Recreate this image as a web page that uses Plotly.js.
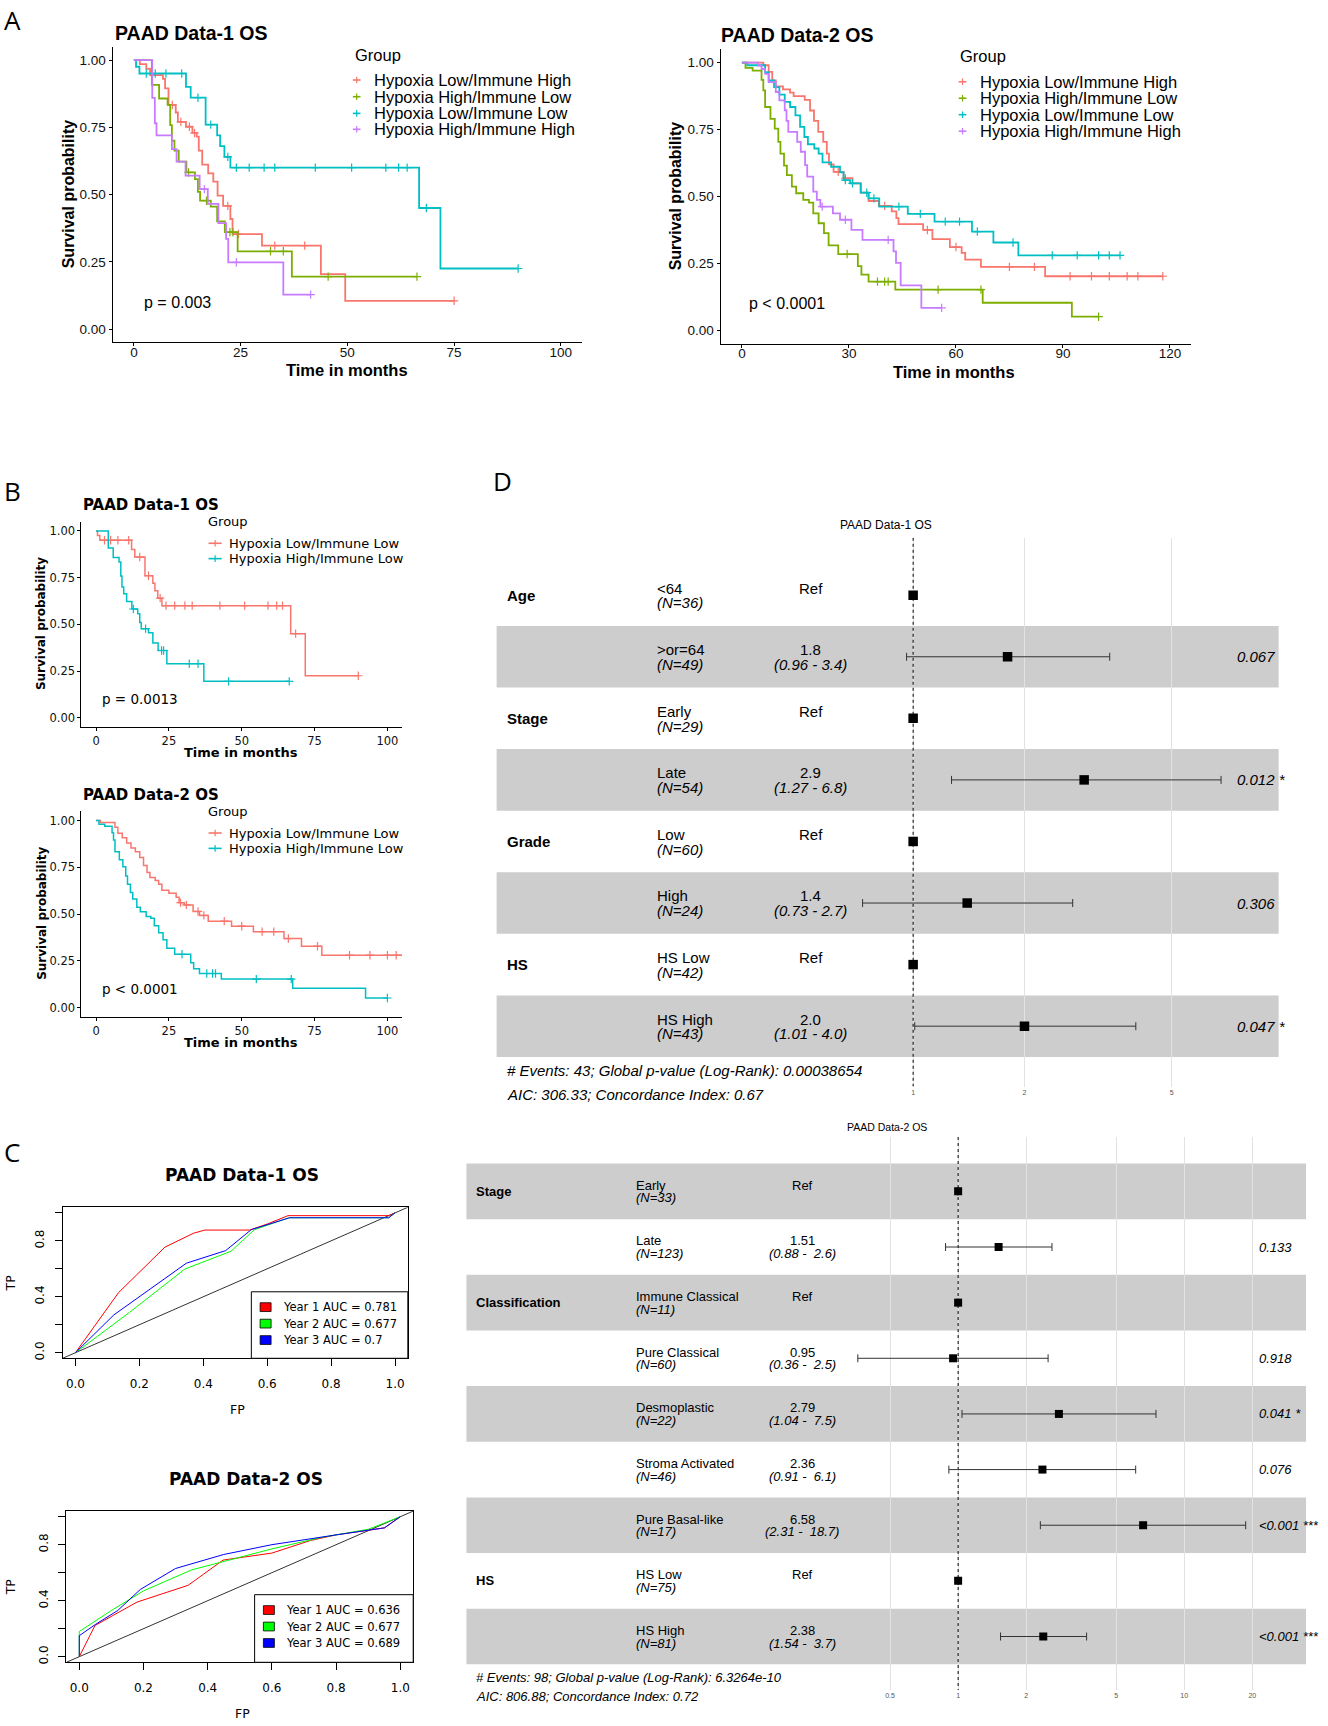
<!DOCTYPE html>
<html><head><meta charset="utf-8">
<script src="https://cdn.plot.ly/plotly-3.0.1.min.js"></script>
<style>html,body{margin:0;padding:0;background:#fff}#chart{width:1328px;height:1726px}</style>
</head><body><div id="chart"></div>
<script>
// ================= DATA =================
const groupsA = ["Hypoxia Low/Immune High","Hypoxia High/Immune Low","Hypoxia Low/Immune Low","Hypoxia High/Immune High"];
const groupsB = ["Hypoxia Low/Immune Low","Hypoxia High/Immune Low"];

// ---- PAAD Data-1 OS, Kaplan-Meier (time in months, survival) ----
const d1LH_t = [0,1.4,2.9,3.8,6.8,7.3,8.1,9.8,10.3,12.2,13.7,14.7,15.2,16.0,17.4,18.6,19.6,20.9,22.6,23.1,30.0,43.8,49.5];
const d1LH_s = [1,0.985,0.967,0.944,0.93,0.895,0.833,0.805,0.77,0.752,0.729,0.715,0.663,0.611,0.579,0.548,0.496,0.458,0.409,0.353,0.31,0.204,0.105];
const d1LH_end = 75;
const d1LH_cens = [9,11,13,14.2,22,24.5,33,40,75];

const d1HL_t = [0,4.2,5.9,7.9,8.5,8.9,9.5,10.5,12.3,14.3,15.0,15.5,18.0,19.5,21.3,24.3,37.0];
const d1HL_s = [1,0.908,0.857,0.833,0.758,0.70,0.663,0.622,0.582,0.557,0.51,0.477,0.455,0.40,0.36,0.289,0.195];
const d1HL_end = 66.3;
const d1HL_cens = [12.8,17,22.5,23.2,32,35,45.5,66.3];

const d1LL_t = [0,0.5,1.3,12.2,13.3,16.8,19.5,20.2,21.2,22.6,66.8,71.8];
const d1LL_s = [1,0.975,0.95,0.9,0.86,0.76,0.72,0.68,0.64,0.60,0.45,0.225];
const d1LL_end = 90;
const d1LL_cens = [2.9,5,7.5,11.2,15,18,22,24,27,30.5,33,42.5,51,59,62,64,68.5,90];

const d1HH_t = [0,3.6,4.3,4.9,5.3,8.9,10.0,12.1,15.4,17.3,19.8,21.6,22.1,35.0];
const d1HH_s = [1,1,0.859,0.765,0.72,0.669,0.622,0.57,0.52,0.465,0.394,0.335,0.248,0.128];
const d1HH_end = 41.4;
const d1HH_cens = [16.5,24,41.4];

// ---- PAAD Data-2 OS, Kaplan-Meier ----
const d2LH_t = [0,6,7.5,8.5,9.5,11.5,13.5,14.5,17.6,19.1,20.2,21.4,22.8,23.8,24.4,25.7,28.5,31.0,33.3,35.5,38.4,42.0,43.3,43.9,50.8,53.4,58.3,61.6,62.6,67.0,85.0];
const d2LH_s = [1,0.99,0.965,0.933,0.911,0.90,0.888,0.875,0.861,0.821,0.782,0.741,0.704,0.66,0.62,0.592,0.568,0.549,0.514,0.483,0.465,0.444,0.419,0.397,0.375,0.341,0.311,0.289,0.264,0.237,0.202];
const d2LH_end = 118;
const d2LH_cens = [27,29,40,52,60,75,82,92,98,103,108,111,118];

const d2HL_t = [0,1,3,5.5,6,6.5,8,9.2,10.2,10.8,11.8,12.6,14,15.2,17.2,18.8,20.0,21.5,23.0,24.3,27.0,32.5,33.5,35.5,43.0,67.5,92.5];
const d2HL_s = [1,0.98,0.97,0.935,0.896,0.834,0.79,0.753,0.704,0.66,0.615,0.58,0.537,0.512,0.487,0.477,0.437,0.40,0.363,0.317,0.285,0.24,0.208,0.182,0.152,0.103,0.051];
const d2HL_end = 100;
const d2HL_cens = [29.5,38,40,41,55,67,100];

const d2LL_t = [0,1.5,6.5,7.5,9,10.5,12,13.5,15,16.3,17.5,18.5,20.3,21.5,22.6,25,27.5,28.5,30.3,33.3,35.5,38.5,46.5,54,64.5,70.5,77.5];
const d2LL_s = [1,0.99,0.964,0.933,0.908,0.88,0.853,0.834,0.803,0.76,0.722,0.695,0.679,0.66,0.627,0.611,0.59,0.561,0.549,0.514,0.493,0.462,0.435,0.406,0.369,0.328,0.28];
const d2LL_end = 106;
const d2LL_cens = [29,31,35,37,44,50,57,61,66,76,87,94,100,103,106];

const d2HH_t = [0,4.5,5.5,6.5,7.5,9.5,10.5,12,12.5,13,15.5,16.5,17.7,18.3,20,21,22,25.5,27.5,30.7,33.8,42.5,43.2,44.5,50.3];
const d2HH_s = [1,0.989,0.976,0.958,0.927,0.89,0.859,0.822,0.782,0.741,0.704,0.667,0.617,0.574,0.518,0.487,0.462,0.437,0.413,0.375,0.338,0.295,0.252,0.168,0.084];
const d2HH_end = 56;
const d2HH_cens = [22.5,29,41,56];

const pA1 = "p = 0.003", pA2 = "p < 0.0001", pB1 = "p = 0.0013", pB2 = "p < 0.0001";

// ---- ROC (panel C) ----
const rocYears = ["Year 1","Year 2","Year 3"];
const roc1AUC = ["0.781","0.677","0.7"];
const roc1_fp1 = [0,0.135,0.28,0.37,0.405,0.545,0.60,0.665,0.98,1.0];
const roc1_tp1 = [0,0.43,0.755,0.855,0.877,0.877,0.92,0.98,0.98,1.0];
const roc1_fp2 = [0,0.17,0.342,0.487,0.56,0.668,0.98,1.0];
const roc1_tp2 = [0,0.29,0.598,0.726,0.88,0.965,0.965,1.0];
const roc1_fp3 = [0,0.12,0.347,0.47,0.55,0.67,0.98,1.0];
const roc1_tp3 = [0,0.27,0.64,0.73,0.88,0.965,0.965,1.0];
const roc2AUC = ["0.636","0.677","0.689"];
const roc2_fp1 = [0,0.049,0.18,0.339,0.448,0.6,0.72,0.8,0.951,1.0];
const roc2_tp1 = [0,0.223,0.39,0.51,0.69,0.74,0.83,0.87,0.92,1.0];
const roc2_fp2 = [0,0,0.1,0.2,0.35,0.5,0.6,0.75,0.9,1.0];
const roc2_tp2 = [0,0.18,0.33,0.47,0.62,0.71,0.77,0.85,0.91,1.0];
const roc2_fp3 = [0,0,0.05,0.12,0.19,0.3,0.45,0.6,0.8,0.95,1.0];
const roc2_tp3 = [0,0.15,0.23,0.33,0.48,0.63,0.73,0.80,0.87,0.92,1.0];

// ---- Forest plots (panel D) ----
const f1Var = ["Age","","Stage","","Grade","","HS",""];
const f1Level = ["<64",">or=64","Early","Late","Low","High","HS Low","HS High"];
const f1N = [36,49,29,54,60,24,42,43];
const f1HR = [1,1.8,1,2.9,1,1.4,1,2.0];
const f1Lo = [1,0.96,1,1.27,1,0.73,1,1.01];
const f1Hi = [1,3.4,1,6.8,1,2.7,1,4.0];
const f1Ref = [true,false,true,false,true,false,true,false];
const f1P = ["","0.067","","0.012 *","","0.306","","0.047 *"];
const f1Foot = ["# Events: 43; Global p-value (Log-Rank): 0.00038654","AIC: 306.33; Concordance Index: 0.67"];
const f1Ticks = [1,2,5];

const f2Var = ["Stage","","Classification","","","","","HS",""];
const f2Level = ["Early","Late","Immune Classical","Pure Classical","Desmoplastic","Stroma Activated","Pure Basal-like","HS Low","HS High"];
const f2N = [33,123,11,60,22,46,17,75,81];
const f2HR = [1,1.51,1,0.95,2.79,2.36,6.58,1,2.38];
const f2Lo = [1,0.88,1,0.36,1.04,0.91,2.31,1,1.54];
const f2Hi = [1,2.6,1,2.5,7.5,6.1,18.7,1,3.7];
const f2Ref = [true,false,true,false,false,false,false,true,false];
const f2P = ["","0.133","","0.918","0.041 *","0.076","<0.001 ***","","<0.001 ***"];
const f2Foot = ["# Events: 98; Global p-value (Log-Rank): 6.3264e-10","AIC: 806.88; Concordance Index: 0.72"];
const f2Ticks = [0.5,1,2,5,10,20];

// ================= LAYOUT HELPERS =================
const W = 1328, H = 1726, K = W / 1210;
const fx = d => d / 1210;
const fy = d => 1 - d * K / H;
const lin = (p0, p1, v0, v1, v) => p0 + (v - v0) * (p1 - p0) / (v1 - v0);
const esc = s => String(s).replace(/&/g,'&amp;').replace(/</g,'&lt;').replace(/>/g,'&gt;');

const FA = "Liberation Sans, Arial, Helvetica, sans-serif";
const FB = "DejaVu Sans, Verdana, sans-serif";
const FL = "Open Sans, Noto Sans, sans-serif";
const RED = '#F8766D', GRN = '#7CAE00', CYN = '#00BFC4', PUR = '#C77CFF';

const traces = [], shapes = [], annotations = [];
const layout = {width: W, height: H, margin: {l:0, r:0, t:0, b:0}, paper_bgcolor: '#fff',
  plot_bgcolor: 'rgba(0,0,0,0)', showlegend: false, shapes, annotations, hovermode: false};

function ann(x, y, text, family, size, o) {
  annotations.push(Object.assign({xref:'paper', yref:'paper', x: fx(x), y: fy(y), text, showarrow:false,
    xanchor:'left', yanchor:'middle', font:{family, size, color:'#000'}}, o || {}));
}
const sfx = n => n === 1 ? '' : String(n);

// ---------- Kaplan-Meier ----------
function kmAxes(n, c) {
  const s = sfx(n);
  const xd = [fx(lin(c.xp[0], c.xp[1], 0, c.xv1, c.xr[0])), fx(lin(c.xp[0], c.xp[1], 0, c.xv1, c.xr[1]))];
  const yd = [fy(lin(c.yp[0], c.yp[1], 0, 1, c.yr[0])), fy(lin(c.yp[0], c.yp[1], 0, 1, c.yr[1]))];
  const base = {showline:true, linecolor:'#000', linewidth:1, ticks:'outside', ticklen:3, tickcolor:'#000',
    showgrid:false, zeroline:false, fixedrange:true, tickfont:{family:c.font, size:c.tick, color:'#111'}};
  layout['xaxis' + s] = Object.assign({}, base, {domain: xd, range: c.xr, anchor: 'y' + s, tickvals: c.xticks, ticklabelstandoff: c.xso});
  layout['yaxis' + s] = Object.assign({}, base, {domain: yd, range: c.yr, anchor: 'x' + s,
    tickvals: [0,0.25,0.5,0.75,1], ticktext: ['0.00','0.25','0.50','0.75','1.00']});
}
function addKM(n, t, sv, end, cens, color, w) {
  const s = sfx(n);
  traces.push({x: t.concat([end]), y: sv.concat([sv[sv.length - 1]]), xaxis:'x' + s, yaxis:'y' + s,
    mode:'lines', line:{color, width:w, shape:'hv'}, hoverinfo:'skip'});
  const cy = cens.map(c => { let v = sv[0]; for (let i = 0; i < t.length; i++) if (t[i] <= c) v = sv[i]; return v; });
  traces.push({x: cens, y: cy, xaxis:'x' + s, yaxis:'y' + s, mode:'markers', hoverinfo:'skip',
    marker:{symbol:'cross-thin', size:6, color, line:{color, width:1.2}}});
}
function kmLegend(gx, gy, keyX, keyHalf, textX, ys, labels, colors, family, size, gsize) {
  ann(gx, gy, 'Group', family, gsize);
  labels.forEach((lab, i) => {
    shapes.push({type:'line', xref:'paper', yref:'paper', x0:fx(keyX - keyHalf), x1:fx(keyX + keyHalf), y0:fy(ys[i]), y1:fy(ys[i]), line:{color:colors[i], width:1.6}});
    shapes.push({type:'line', xref:'paper', yref:'paper', x0:fx(keyX), x1:fx(keyX), y0:fy(ys[i] - 3), y1:fy(ys[i] + 3), line:{color:colors[i], width:1.2}});
    ann(textX, ys[i], lab, family, size);
  });
}
function pAnn(n, x, y, text, family, size) {
  const s = sfx(n);
  annotations.push({xref:'x' + s, yref:'y' + s, x, y, text: esc(text), showarrow:false, xanchor:'left', yanchor:'middle', font:{family, size, color:'#000'}});
}

// Panel A
kmAxes(1, {xp:[122,511], xv1:100, yp:[299.8,54.7], xr:[-5,105], yr:[-0.05,1.05], xticks:[0,25,50,75,100], font:FA, tick:13.5, xso:-6});
addKM(1, d1LH_t, d1LH_s, d1LH_end, d1LH_cens, RED, 1.8);
addKM(1, d1HL_t, d1HL_s, d1HL_end, d1HL_cens, GRN, 1.8);
addKM(1, d1LL_t, d1LL_s, d1LL_end, d1LL_cens, CYN, 1.8);
addKM(1, d1HH_t, d1HH_s, d1HH_end, d1HH_cens, PUR, 1.8);
pAnn(1, 2, 0.1, pA1, FA, 16);
kmLegend(321.5, 50, 325, 3.5, 338.5, [72.9,88.1,103.3,117.8], groupsA, [RED,GRN,CYN,PUR], FA, 16.5, 16.5);
ann(103, 30.4, '<b>PAAD Data-1 OS</b>', FA, 19.5);
ann(62, 177, '<b>Survival probability</b>', FA, 16, {xanchor:'center', textangle:-90});
ann(316, 337, '<b>Time in months</b>', FA, 16.5, {xanchor:'center'});

kmAxes(2, {xp:[676,1066], xv1:120, yp:[301,57], xr:[-6,126], yr:[-0.05,1.05], xticks:[0,30,60,90,120], font:FA, tick:13.5, xso:-6});
addKM(2, d2LH_t, d2LH_s, d2LH_end, d2LH_cens, RED, 1.8);
addKM(2, d2HL_t, d2HL_s, d2HL_end, d2HL_cens, GRN, 1.8);
addKM(2, d2LL_t, d2LL_s, d2LL_end, d2LL_cens, CYN, 1.8);
addKM(2, d2HH_t, d2HH_s, d2HH_end, d2HH_cens, PUR, 1.8);
pAnn(2, 1.5, 0.1, pA2, FA, 16);
kmLegend(873, 51, 877, 3.5, 891, [74.5,89.5,104.5,119.5], groupsA, [RED,GRN,CYN,PUR], FA, 16.5, 16.5);
ann(655, 31.5, '<b>PAAD Data-2 OS</b>', FA, 19.5);
ann(615, 178, '<b>Survival probability</b>', FA, 16, {xanchor:'center', textangle:-90});
ann(869, 339, '<b>Time in months</b>', FA, 16.5, {xanchor:'center'});

// Panel B
kmAxes(3, {xp:[87.5,353], xv1:100, yp:[654,483.7], xr:[-5,105], yr:[-0.05,1.05], xticks:[0,25,50,75,100], font:FB, tick:11.5, xso:0});
addKM(3, d1LL_t, d1LL_s, d1LL_end, d1LL_cens, RED, 1.5);
addKM(3, d1HL_t, d1HL_s, d1HL_end, d1HL_cens, CYN, 1.5);
pAnn(3, 1.5, 0.1, pB1, FB, 13.5);
kmLegend(188, 475, 196, 6, 207, [495,509], groupsB, [RED,CYN], FB, 13, 13);
ann(74, 460, '<b>PAAD Data-1 OS</b>', FB, 15);
ann(38, 568, '<b>Survival probability</b>', FB, 12, {xanchor:'center', textangle:-90});
ann(220, 686, '<b>Time in months</b>', FB, 13, {xanchor:'center'});

kmAxes(4, {xp:[87.5,353], xv1:100, yp:[918,747.7], xr:[-5,105], yr:[-0.05,1.05], xticks:[0,25,50,75,100], font:FB, tick:11.5, xso:0});
addKM(4, d2LL_t, d2LL_s, d2LL_end, d2LL_cens, RED, 1.5);
addKM(4, d2HL_t, d2HL_s, d2HL_end, d2HL_cens, CYN, 1.5);
pAnn(4, 1.5, 0.1, pB2, FB, 13.5);
kmLegend(188, 739, 196, 6, 207, [759,773], groupsB, [RED,CYN], FB, 13, 13);
ann(74, 724, '<b>PAAD Data-2 OS</b>', FB, 15);
ann(38, 832, '<b>Survival probability</b>', FB, 12, {xanchor:'center', textangle:-90});
ann(220, 950, '<b>Time in months</b>', FB, 13, {xanchor:'center'});

// ---------- ROC (panel C) ----------
function rocPanel(n, box, series, aucs, leg, title, tY, fpY, tpX) {
  const s = sfx(n);
  const base = {showline:true, mirror:true, linecolor:'#000', linewidth:1, ticks:'outside', ticklen:7, tickcolor:'#000',
    showgrid:false, zeroline:false, fixedrange:true, range:[-0.04,1.04], tickfont:{family:FB, size:12, color:'#000'}};
  layout['xaxis' + s] = Object.assign({}, base, {domain:[fx(box[0]), fx(box[1])], anchor:'y' + s, ticklabelstandoff:7,
    tickvals:[0,0.2,0.4,0.6,0.8,1], ticktext:['0.0','0.2','0.4','0.6','0.8','1.0']});
  layout['yaxis' + s] = Object.assign({}, base, {domain:[fy(box[3]), fy(box[2])], anchor:'x' + s, ticklabelstandoff:6,
    tickvals:[0,0.2,0.4,0.6,0.8,1], ticktext:['0.0','','0.4','','0.8',''], tickangle:-90});
  traces.push({x:[-0.04,1.04], y:[-0.04,1.04], xaxis:'x' + s, yaxis:'y' + s, mode:'lines', line:{color:'#333', width:1}, hoverinfo:'skip'});
  const cols = ['#FF0000','#00FF00','#0000FF'];
  series.forEach((sr, i) => traces.push({x:sr[0], y:sr[1], xaxis:'x' + s, yaxis:'y' + s, mode:'lines', line:{color:cols[i], width:1}, hoverinfo:'skip'}));
  // legend box
  shapes.push({type:'rect', xref:'paper', yref:'paper', x0:fx(leg.x0), x1:fx(box[1]), y0:fy(box[3]), y1:fy(leg.y0), line:{color:'#000', width:1}, fillcolor:'#fff'});
  leg.rows.forEach((ry, i) => {
    shapes.push({type:'rect', xref:'paper', yref:'paper', x0:fx(leg.kx - 5), x1:fx(leg.kx + 5), y0:fy(ry + 4), y1:fy(ry - 4), line:{color:'#000', width:0.8}, fillcolor:cols[i]});
    ann(leg.tx, ry, rocYears[i] + ' AUC = ' + aucs[i], FB, 11.5);
  });
  ann((box[0] + box[1]) / 2 + 6, tY, '<b>' + title + '</b>', FB, 17, {xanchor:'center'});
  ann((box[0] + box[1]) / 2 + 2, fpY, 'FP', FB, 12.5, {xanchor:'center'});
  ann(tpX, (box[2] + box[3]) / 2, 'TP', FB, 12.5, {xanchor:'center', textangle:-90});
}
rocPanel(5, [57.1,371.6,1100,1237.6], [[roc1_fp1, roc1_tp1],[roc1_fp2, roc1_tp2],[roc1_fp3, roc1_tp3]], roc1AUC,
  {x0:229, y0:1177, kx:242, tx:256, rows:[1191,1206,1221]}, 'PAAD Data-1 OS', 1071, 1284, 9.7);
rocPanel(6, [60.5,376.5,1376.8,1514.6], [[roc2_fp1, roc2_tp1],[roc2_fp2, roc2_tp2],[roc2_fp3, roc2_tp3]], roc2AUC,
  {x0:232, y0:1453, kx:245, tx:259, rows:[1467,1482,1497]}, 'PAAD Data-2 OS', 1347.5, 1561, 9.7);

// ---------- Forest plots (panel D) ----------
function forest(n, c) {
  const s = sfx(n);
  const xr = [(c.xpx[0] - c.onePx) / c.pxDec, (c.xpx[1] - c.onePx) / c.pxDec];
  const iTop = (c.ypx[0] - c.row0) / c.step, iBot = (c.ypx[1] - c.row0) / c.step;
  layout['xaxis' + s] = {type:'log', domain:[fx(c.xpx[0]), fx(c.xpx[1])], range:xr, anchor:'y' + s,
    showline:false, zeroline:false, showgrid:true, gridcolor:'#e2e2e2', gridwidth:1, ticks:'',
    tickvals:c.ticks, ticktext:c.ticks.map(String), tickfont:{family:FA, size:7, color:'#555'}, fixedrange:true};
  layout['yaxis' + s] = {domain:[fy(c.ypx[1]), fy(c.ypx[0])], range:[iBot, iTop], anchor:'x' + s,
    showline:false, zeroline:false, showgrid:false, showticklabels:false, ticks:'', fixedrange:true};
  c.level.forEach((lv, i) => {
    if (c.bandOdd ? (i % 2 === 1) : (i % 2 === 0)) {
      shapes.push({type:'rect', xref:'x' + s + ' domain', yref:'y' + s, x0:0, x1:1, y0:i - 0.5, y1:i + 0.5,
        fillcolor:'#cdcdcd', line:{width:0}, layer:'below'});
    }
    const yc = c.row0 + i * c.step;
    const ar = {xref:'paper', yref:'paper', showarrow:false, yanchor:'middle'};
    if (c.vars[i]) annotations.push(Object.assign({}, ar, {x:fx(c.colVar), y:fy(yc), xanchor:'left', text:'<b>' + c.vars[i] + '</b>', font:{family:FA, size:c.fs, color:'#000'}}));
    annotations.push(Object.assign({}, ar, {x:fx(c.colLevel), y:fy(yc + c.off[0]), xanchor:'left', text:esc(lv), font:{family:FA, size:c.fs, color:'#000'}}));
    annotations.push(Object.assign({}, ar, {x:fx(c.colLevel), y:fy(yc + c.off[1]), xanchor:'left', text:'<i>(N=' + c.N[i] + ')</i>', font:{family:FA, size:c.fs, color:'#000'}}));
    if (c.ref[i]) {
      annotations.push(Object.assign({}, ar, {x:fx(c.colHR), y:fy(yc + c.off[0]), xanchor:'center', text:'Ref', font:{family:FA, size:c.fs, color:'#000'}}));
    } else {
      annotations.push(Object.assign({}, ar, {x:fx(c.colHR), y:fy(yc + c.off[0]), xanchor:'center', text:c.HR[i].toFixed(c.dec), font:{family:FA, size:c.fs, color:'#000'}}));
      annotations.push(Object.assign({}, ar, {x:fx(c.colHR), y:fy(yc + c.off[1]), xanchor:'center', text:'<i>(' + c.Lo[i].toFixed(2) + c.sep + c.Hi[i].toFixed(1) + ')</i>', font:{family:FA, size:c.fs, color:'#000'}}));
    }
    if (c.P[i]) annotations.push(Object.assign({}, ar, {x:fx(c.colP), y:fy(yc), xanchor:'left', text:'<i>' + esc(c.P[i]) + '</i>', font:{family:FA, size:c.fs, color:'#000'}}));
  });
  // reference line at HR = 1
  traces.push({x:[1,1], y:[iTop, iBot], xaxis:'x' + s, yaxis:'y' + s, mode:'lines', line:{color:'#000', width:1, dash:'dot'}, hoverinfo:'skip'});
  // estimates with CI
  const idx = c.HR.map((_, i) => i);
  traces.push({x:c.HR, y:idx, xaxis:'x' + s, yaxis:'y' + s, mode:'markers', hoverinfo:'skip',
    marker:{symbol:'square', size:c.ms, color:'#000'},
    error_x:{type:'data', symmetric:false, array:c.HR.map((h, i) => c.Hi[i] - h), arrayminus:c.HR.map((h, i) => h - c.Lo[i]),
      color:'#333', thickness:1, width:4}});
  annotations.push({xref:'paper', yref:'paper', x:fx(c.titleX), y:fy(c.titleY), xanchor:'center', yanchor:'middle', showarrow:false,
    text:c.title, font:{family:FA, size:c.tfs, color:'#000'}});
  c.foot.forEach((f, i) => annotations.push({xref:'paper', yref:'paper', x:fx(c.colVar), y:fy(c.footY[i]), xanchor:'left', yanchor:'middle', showarrow:false,
    text:'<i>' + esc(f) + '</i>', font:{family:FA, size:c.ffs, color:'#000'}}));
}
forest(7, {xpx:[452.5,1165], onePx:832, pxDec:337, ypx:[490,990], row0:542.3, step:56.1, bandOdd:true,
  vars:f1Var, level:f1Level, N:f1N, HR:f1HR, Lo:f1Lo, Hi:f1Hi, ref:f1Ref, P:f1P, ticks:f1Ticks, dec:1, sep:' - ',
  fs:15, ms:9.5, colVar:460, colLevel:596.5, colHR:738.5, colP:1125, off:[-6.5,7],
  title:'PAAD Data-1 OS', titleX:807, titleY:478.5, tfs:12, foot:f1Foot, footY:[975,997], ffs:15});
forest(8, {xpx:[425,1190], onePx:873, pxDec:206, ypx:[1036,1540], row0:1085.5, step:50.7, bandOdd:false,
  vars:f2Var, level:f2Level, N:f2N, HR:f2HR, Lo:f2Lo, Hi:f2Hi, ref:f2Ref, P:f2P, ticks:f2Ticks, dec:2, sep:' -  ',
  fs:13, ms:8, colVar:432, colLevel:578, colHR:731, colP:1145, off:[-5.5,6],
  title:'PAAD Data-2 OS', titleX:808, titleY:1027, tfs:10.5, foot:f2Foot, footY:[1528,1546], ffs:13});

// ---------- Panel letters ----------
ann(2, 18, 'A', FL, 26);
ann(2, 447, 'B', FL, 26);
ann(2, 1050, 'C', FL, 26);
ann(447, 438, 'D', FL, 26);

Plotly.newPlot('chart', traces, layout, {displayModeBar:false, staticPlot:true});
</script>
</body></html>
